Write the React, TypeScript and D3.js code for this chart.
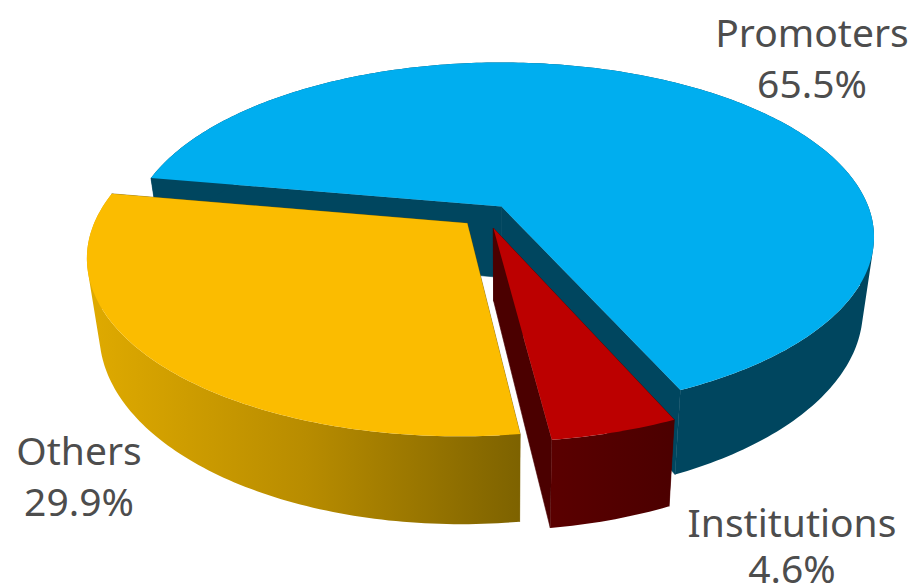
import React from "react";
import * as d3 from "d3";

const categories = ["Promoters", "Institutions", "Others"];
const shares = [65.5, 4.6, 29.9];
const shareLabels = ["65.5%", "4.6%", "29.9%"];
const explodeU = [0, -0.0218, -0.0917];
const explodeV = [0, 0.125, 0.0977];
const radii = [1, 0.995, 1];
const topColors = ["#00aeef", "#bc0000", "#fbbc00"];
const innerColors = ["#00465f", "#4b0000", "#7d6200"];
const sideColors = ["#00465f", "url(#redSide)", "url(#yellowSide)"];
const labelX = [812, 792, 79];
const labelY1 = [47, 537, 465];
const labelY2 = [98, 583, 516];

const W = 916, H = 588;
const CX = 501.5, CY = 206.5, K = 366.8, B = 169.2, A = 0.1748, DEPTH = 71, SHRINK = 0.97;

type P = [number, number];
const project = (u: number, v: number, z: number): P => {
  const d = 1 - A * v;
  const x = CX + (K * u) / d;
  const y = CY + (B * v) / d + (z * DEPTH) / d;
  return [CX + (x - CX) * (1 - z * (1 - SHRINK)), y];
};

const pie = d3.pie<number>().sort(null).startAngle((-80 * Math.PI) / 180).endAngle((280 * Math.PI) / 180);
const arcs = pie(shares);
const line = d3.line();

// Union of the swept quads, every one wound the same way so that none cancels another.
const sweep = (top: P[], bot: P[]) =>
  d3.range(top.length - 1).map((k) => {
    const q: P[] = [top[k], top[k + 1], bot[k + 1], bot[k]];
    return line(d3.polygonArea(q) < 0 ? q.reverse() : q)! + "Z";
  }).join("");

export default function App() {
  const model = arcs.map((a, i) => {
    const ou = explodeU[i], ov = explodeV[i], r = radii[i];
    const n = Math.max(8, Math.round((a.endAngle - a.startAngle) * 60));
    const angles = d3.range(n + 1).map((k) => a.startAngle + ((a.endAngle - a.startAngle) * k) / n);
    const rim = (z: number) => angles.map((t) => project(ou + r * Math.sin(t), ov - r * Math.cos(t), z));
    const apex = (z: number) => project(ou, ov, z);
    const top = rim(0), bot = rim(1);
    return {
      face: line([apex(0), ...top])! + "Z",
      outer: sweep(top, bot),
      wallA: line([apex(0), top[0], bot[0], apex(1)])! + "Z",
      wallB: line([apex(0), top[n], bot[n], apex(1)])! + "Z",
    };
  });
  const order = [0, 1, 2];
  const font = { fontFamily: "'Noto Sans', sans-serif", fontSize: 39, fill: "#4d4d4d", textAnchor: "middle" as const };
  return (
    <svg width={W} height={H} viewBox={`0 0 ${W} ${H}`} style={{ position: "absolute", left: 0, top: 0, display: "block", background: "#fff" }}>
      <defs>
        <linearGradient id="yellowSide" gradientUnits="userSpaceOnUse" x1={90} x2={522} y1={0} y2={0}>
          <stop offset="0" stopColor="#dfaa00" />
          <stop offset="0.5" stopColor="#b88c00" />
          <stop offset="1" stopColor="#7d6200" />
        </linearGradient>
        <linearGradient id="redSide" gradientUnits="userSpaceOnUse" x1={553} x2={677} y1={0} y2={0}>
          <stop offset="0" stopColor="#5a0000" />
          <stop offset="1" stopColor="#4b0000" />
        </linearGradient>
      </defs>
      {order.map((i) => (
        <g key={categories[i]}>
          <path d={model[i].wallA} fill={innerColors[i]} stroke={innerColors[i]} strokeWidth={0.6} />
          <path d={model[i].wallB} fill={innerColors[i]} stroke={innerColors[i]} strokeWidth={0.6} />
          <path d={model[i].outer} fill={sideColors[i]} />
          <path d={model[i].face} fill={topColors[i]} />
        </g>
      ))}
      {order.map((i) => (
        <g key={"l" + i} {...font}>
          <text x={labelX[i]} y={labelY1[i]}>{categories[i]}</text>
          <text x={labelX[i]} y={labelY2[i]}>{shareLabels[i]}</text>
        </g>
      ))}
    </svg>
  );
}
